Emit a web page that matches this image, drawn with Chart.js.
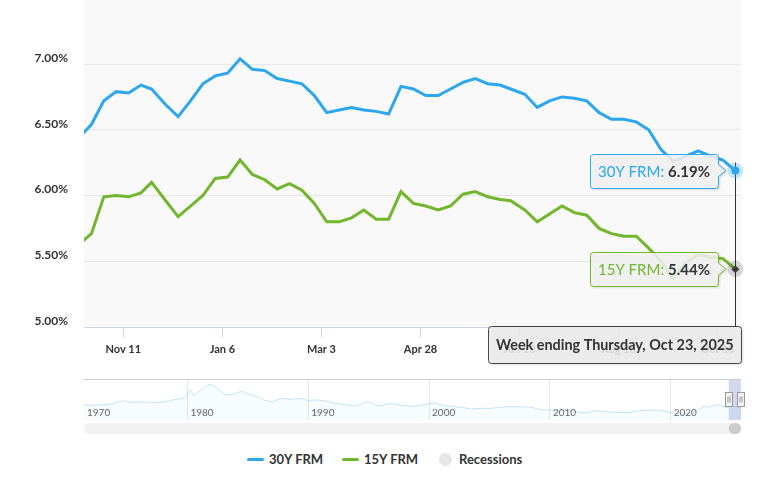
<!DOCTYPE html>
<html>
<head>
<meta charset="utf-8">
<script src="https://cdn.jsdelivr.net/npm/chart.js@4.4.1/dist/chart.umd.min.js"></script>
<style>
html, body { margin: 0; padding: 0; background: #fff; }
#wrap { position: relative; width: 761px; height: 493px; overflow: hidden; font-family: Lato, sans-serif; }
#main { position: absolute; left: 0; top: 0; }
#nav { position: absolute; left: 0; top: 372px; }
#legend { position: absolute; left: 0; top: 450px; width: 761px; height: 18px; font: bold 13px Lato, sans-serif; color: #333; white-space: nowrap; }
#legend .item { position: absolute; top: 0; height: 18px; display: flex; align-items: center; }
#legend .sw { display: inline-block; width: 17px; height: 3px; border-radius: 2px; margin-right: 5px; }
#legend .dot { display: inline-block; width: 13px; height: 13px; border-radius: 50%; background: #e6e6e6; margin-right: 7px; }
</style>
</head>
<body>
<div id="wrap">
  <canvas id="main" width="761" height="372"></canvas>
  <canvas id="nav" width="761" height="68"></canvas>
  <div id="legend"></div>
</div>
<script>
// weekly PMMS rates (Thursday releases)
const weeks = [
  '2024-10-17','2024-10-24','2024-10-31','2024-11-07','2024-11-14','2024-11-21','2024-11-27','2024-12-05','2024-12-12','2024-12-19','2024-12-26',
  '2025-01-02','2025-01-09','2025-01-16','2025-01-23','2025-01-30','2025-02-06','2025-02-13','2025-02-20','2025-02-27',
  '2025-03-06','2025-03-13','2025-03-20','2025-03-27','2025-04-03','2025-04-10','2025-04-17','2025-04-24',
  '2025-05-01','2025-05-08','2025-05-15','2025-05-22','2025-05-29','2025-06-05','2025-06-12','2025-06-18','2025-06-26',
  '2025-07-03','2025-07-10','2025-07-17','2025-07-24','2025-07-31','2025-08-07','2025-08-14','2025-08-21','2025-08-28',
  '2025-09-04','2025-09-11','2025-09-18','2025-09-25','2025-10-02','2025-10-09','2025-10-16','2025-10-23'
];
const frm30 = [
  6.44, 6.54, 6.72, 6.79, 6.78, 6.84, 6.81, 6.69, 6.60, 6.72, 6.85,
  6.91, 6.93, 7.04, 6.96, 6.95, 6.89, 6.87, 6.85, 6.76,
  6.63, 6.65, 6.67, 6.65, 6.64, 6.62, 6.83, 6.81,
  6.76, 6.76, 6.81, 6.86, 6.89, 6.85, 6.84, 6.81, 6.77,
  6.67, 6.72, 6.75, 6.74, 6.72, 6.63, 6.58, 6.58, 6.56,
  6.50, 6.35, 6.26, 6.30, 6.34, 6.30, 6.27, 6.19
];
const frm15 = [
  5.63, 5.71, 5.99, 6.00, 5.99, 6.02, 6.10, 5.96, 5.84, 5.92, 6.00,
  6.13, 6.14, 6.27, 6.16, 6.12, 6.05, 6.09, 6.04, 5.94,
  5.80, 5.80, 5.83, 5.89, 5.82, 5.82, 6.03, 5.94,
  5.92, 5.89, 5.92, 6.01, 6.03, 5.99, 5.97, 5.96, 5.89,
  5.80, 5.86, 5.92, 5.87, 5.85, 5.75, 5.71, 5.69, 5.69,
  5.60, 5.50, 5.37, 5.49, 5.55, 5.53, 5.52, 5.44
];
const xTickDates = ['2024-11-11','2025-01-06','2025-03-03','2025-04-28','2025-06-23','2025-08-18','2025-10-13'];
const xTickLabels = ['Nov 11','Jan 6','Mar 3','Apr 28','Jun 23','Aug 18','Oct 13'];
const yTicks = [5.0, 5.5, 6.0, 6.5, 7.0];

// navigator: full history of the 30Y rate (rough read of the mini chart)
const navYears = [1971.3,1972.0,1972.8,1973.5,1974.0,1974.7,1975.3,1976.0,1976.8,1977.5,1978.3,1979.0,1979.6,1979.9,1980.25,1980.5,1980.9,1981.4,1981.8,1982.3,1982.9,1983.4,1983.9,1984.5,1985.0,1985.7,1986.3,1987.0,1987.8,1988.5,1989.3,1990.0,1990.6,1991.5,1992.0,1992.6,1993.4,1993.9,1994.9,1995.5,1996.0,1996.6,1997.5,1998.8,1999.5,2000.4,2000.9,2001.8,2002.6,2003.5,2004.0,2005.0,2006.5,2007.5,2008.5,2009.2,2009.8,2010.8,2011.3,2012.5,2013.0,2013.8,2015.0,2016.5,2017.0,2018.9,2019.8,2020.5,2021.0,2021.8,2022.8,2023.1,2023.8,2024.7,2025.0,2025.8];
const navRate = [7.4,7.4,7.45,7.9,8.5,9.6,8.9,9.0,8.9,8.8,9.4,10.4,11.0,12.3,15.5,12.6,14.5,16.2,18.2,17.0,13.8,12.8,13.4,14.5,13.2,12.1,10.2,9.2,11.0,10.4,10.9,9.9,10.1,9.5,8.6,8.0,7.4,7.0,9.1,7.7,7.1,8.2,7.6,6.8,7.6,8.5,7.6,6.8,6.3,5.4,5.7,5.7,6.6,6.5,6.3,5.0,5.0,4.3,4.8,3.6,3.4,4.4,3.8,3.5,4.2,4.8,3.7,3.0,2.8,3.1,6.9,6.3,7.5,6.2,6.9,6.2];
const navTickYears = [1970, 1980, 1990, 2000, 2010, 2020];

const seriesNames = ['30Y FRM', '15Y FRM'];
const seriesColors = ['#2ca6ec', '#72b62e'];

const day = s => Date.parse(s + 'T00:00:00Z') / 86400000;
const toYear = d => 1970 + d / 365.2425;
const xMin = day('2024-10-19') + 0.8;
const xMax = day('2025-10-26') + 0.2;

function roundRect(ctx, x, y, w, h, r) {
  ctx.beginPath();
  ctx.moveTo(x + r, y);
  ctx.arcTo(x + w, y, x + w, y + h, r);
  ctx.arcTo(x + w, y + h, x, y + h, r);
  ctx.arcTo(x, y + h, x, y, r);
  ctx.arcTo(x, y, x + w, y, r);
  ctx.closePath();
}

function calloutRight(ctx, x, y, w, h, r, ax, ay) {
  ctx.beginPath();
  ctx.moveTo(x + r, y);
  ctx.lineTo(x + w - r, y);
  ctx.arcTo(x + w, y, x + w, y + r, r);
  ctx.lineTo(x + w, ay - 6);
  ctx.lineTo(ax, ay);
  ctx.lineTo(x + w, ay + 6);
  ctx.lineTo(x + w, y + h - r);
  ctx.arcTo(x + w, y + h, x + w - r, y + h, r);
  ctx.lineTo(x + r, y + h);
  ctx.arcTo(x, y + h, x, y + h - r, r);
  ctx.lineTo(x, y + r);
  ctx.arcTo(x, y, x + r, y, r);
  ctx.closePath();
}

function shadowOn(ctx) {
  ctx.shadowColor = 'rgba(0,0,0,0.2)';
  ctx.shadowBlur = 3;
  ctx.shadowOffsetX = 1;
  ctx.shadowOffsetY = 1;
}

function seriesTip(ctx, p, name, value, color) {
  ctx.save();
  ctx.font = '15px Lato';
  const t1 = name + ': ';
  const w1 = ctx.measureText(t1).width;
  ctx.font = 'bold 15px Lato';
  const t2 = value.toFixed(2) + '%';
  const w2 = ctx.measureText(t2).width;
  const w = Math.round(w1 + w2 + 16), h = 34;
  const right = Math.round(p.x) - 17;
  const x = right - w, y = Math.round(p.y - h / 2);
  shadowOn(ctx);
  calloutRight(ctx, x + 0.5, y + 0.5, w, h, 3, right + 8, p.y);
  ctx.fillStyle = 'rgba(246,246,246,0.85)';
  ctx.fill();
  ctx.shadowColor = 'transparent';
  ctx.strokeStyle = color;
  ctx.lineWidth = 1;
  ctx.stroke();
  ctx.textBaseline = 'middle';
  ctx.fillStyle = color;
  ctx.font = '15px Lato';
  ctx.fillText(t1, x + 8, y + h / 2 + 1);
  ctx.fillStyle = '#333';
  ctx.font = 'bold 15px Lato';
  ctx.fillText(t2, x + 8 + w1, y + h / 2 + 1);
  ctx.restore();
}

const plotBg = {
  id: 'plotBg',
  beforeDraw(chart) {
    const a = chart.chartArea, ctx = chart.ctx;
    ctx.save();
    ctx.fillStyle = '#f9f9f9';
    ctx.fillRect(a.left, a.top, a.right - a.left, a.bottom - a.top);
    ctx.restore();
  }
};

const hoverTips = {
  id: 'hoverTips',
  afterDatasetsDraw(chart) {
    const ctx = chart.ctx, n = weeks.length - 1;
    const p30 = chart.getDatasetMeta(0).data[n];
    const p15 = chart.getDatasetMeta(1).data[n];
    ctx.save();
    // crosshair
    const cx = Math.round(p30.x) + 0.5;
    ctx.strokeStyle = '#333';
    ctx.lineWidth = 1;
    ctx.beginPath();
    ctx.moveTo(cx, p30.y - 8);
    ctx.lineTo(cx, chart.chartArea.bottom);
    ctx.stroke();
    // hover halos and markers
    ctx.fillStyle = 'rgba(44,166,236,0.25)';
    ctx.beginPath(); ctx.arc(p30.x, p30.y, 8, 0, Math.PI * 2); ctx.fill();
    ctx.fillStyle = seriesColors[0];
    ctx.beginPath(); ctx.arc(p30.x, p30.y, 4, 0, Math.PI * 2); ctx.fill();
    ctx.fillStyle = 'rgba(0,0,0,0.15)';
    ctx.beginPath(); ctx.arc(p15.x, p15.y, 8, 0, Math.PI * 2); ctx.fill();
    ctx.fillStyle = '#3a3a3a';
    ctx.beginPath();
    ctx.moveTo(p15.x, p15.y - 4); ctx.lineTo(p15.x + 4, p15.y); ctx.lineTo(p15.x, p15.y + 4); ctx.lineTo(p15.x - 4, p15.y);
    ctx.closePath(); ctx.fill();
    ctx.restore();
  },
  afterDraw(chart) {
    const ctx = chart.ctx, n = weeks.length - 1, a = chart.chartArea;
    const p30 = chart.getDatasetMeta(0).data[n];
    const p15 = chart.getDatasetMeta(1).data[n];
    seriesTip(ctx, p30, seriesNames[0], frm30[n], seriesColors[0]);
    seriesTip(ctx, p15, seriesNames[1], frm15[n], seriesColors[1]);
    // header box
    const d = new Date(weeks[n] + 'T00:00:00Z');
    const txt = 'Week ending ' + d.toLocaleDateString('en-US', { weekday: 'long', month: 'short', day: 'numeric', year: 'numeric', timeZone: 'UTC' });
    ctx.save();
    ctx.font = 'bold 14.4px Lato';
    const w = Math.round(ctx.measureText(txt).width + 16), h = 37;
    const x = Math.min(Math.round(p30.x - w / 2), Math.round(a.right) - w);
    const y = Math.round(a.bottom) - 1;
    shadowOn(ctx);
    roundRect(ctx, x + 0.5, y + 0.5, w, h, 3);
    ctx.fillStyle = 'rgba(238,238,238,0.88)';
    ctx.fill();
    ctx.shadowColor = 'transparent';
    ctx.strokeStyle = '#444';
    ctx.lineWidth = 1;
    ctx.stroke();
    ctx.fillStyle = '#333';
    ctx.textBaseline = 'middle';
    ctx.fillText(txt, x + 8, y + h / 2 + 1);
    ctx.restore();
  }
};

new Chart(document.getElementById('main'), {
  type: 'line',
  data: {
    datasets: [
      { label: seriesNames[0], data: weeks.map((w, i) => ({ x: day(w), y: frm30[i] })), borderColor: seriesColors[0], borderWidth: 3, pointRadius: 0, tension: 0, fill: false },
      { label: seriesNames[1], data: weeks.map((w, i) => ({ x: day(w), y: frm15[i] })), borderColor: seriesColors[1], borderWidth: 3, pointRadius: 0, tension: 0, fill: false }
    ]
  },
  options: {
    responsive: false,
    animation: false,
    events: [],
    layout: { padding: { left: 0, right: 20, top: 0, bottom: 0 } },
    plugins: { legend: { display: false }, tooltip: { enabled: false } },
    scales: {
      x: {
        type: 'linear',
        min: xMin,
        max: xMax,
        afterBuildTicks: axis => { axis.ticks = xTickDates.map(d => ({ value: day(d) })); },
        afterFit: axis => { axis.height = 45; axis.paddingLeft = 0; axis.paddingRight = 0; },
        grid: { drawOnChartArea: false, drawTicks: true, tickLength: 10, color: '#ccd6eb' },
        border: { color: '#ccd6eb', width: 1 },
        ticks: {
          autoSkip: false, maxRotation: 0, padding: 6, color: '#333',
          font: { family: 'Lato', size: 11, weight: 'bold' },
          callback: (v, i) => xTickLabels[i]
        }
      },
      y: {
        min: 5,
        max: 7.487,
        afterBuildTicks: axis => { axis.ticks = yTicks.map(v => ({ value: v })); },
        afterFit: axis => { axis.width = 84; axis.paddingTop = 0; axis.paddingBottom = 0; },
        grid: { color: '#e6e6e6', drawTicks: false },
        border: { display: false },
        ticks: {
          padding: 16, labelOffset: -6, color: '#333',
          font: { family: 'Lato', size: 12, weight: 'bold' },
          callback: v => v.toFixed(2) + '%'
        }
      }
    }
  },
  plugins: [plotBg, hoverTips]
});

// navigator with scrollbar
const navMin = 1971.44;
const navMax = toYear(xMax);
const navExtras = {
  id: 'navExtras',
  afterDraw(chart) {
    const ctx = chart.ctx, a = chart.chartArea, sx = chart.scales.x;
    ctx.save();
    // year labels
    ctx.font = '10px Lato';
    ctx.fillStyle = '#666';
    ctx.textBaseline = 'middle';
    navTickYears.forEach(yr => {
      const px = Math.max(sx.getPixelForValue(yr), a.left);
      ctx.fillText(String(yr), px + 3, a.top + 34);
    });
    // top outline
    ctx.strokeStyle = '#cccccc';
    ctx.lineWidth = 1;
    ctx.beginPath();
    ctx.moveTo(a.left, Math.round(a.top) + 0.5);
    ctx.lineTo(a.right, Math.round(a.top) + 0.5);
    ctx.stroke();
    // selected range mask
    const m0 = sx.getPixelForValue(toYear(xMin));
    const m1 = sx.getPixelForValue(navMax);
    ctx.fillStyle = 'rgba(102,133,194,0.3)';
    ctx.fillRect(m0, a.top + 1, m1 - m0, a.bottom - a.top - 1);
    // handles
    const hy = (a.top + a.bottom) / 2;
    [m0, m1].forEach(hx => {
      const x = Math.round(hx - 4) + 0.5, y = Math.round(hy - 7.5) + 0.5;
      ctx.fillStyle = '#f2f2f2';
      ctx.strokeStyle = '#999';
      ctx.fillRect(x, y, 7, 14);
      ctx.strokeRect(x, y, 7, 14);
      ctx.beginPath();
      ctx.moveTo(x + 2.5, y + 4); ctx.lineTo(x + 2.5, y + 10);
      ctx.moveTo(x + 4.5, y + 4); ctx.lineTo(x + 4.5, y + 10);
      ctx.stroke();
    });
    // scrollbar
    const sy = a.bottom + 3;
    ctx.fillStyle = '#f2f2f2';
    roundRect(ctx, a.left, sy, a.right - a.left, 11, 5.5);
    ctx.fill();
    ctx.fillStyle = '#cccccc';
    roundRect(ctx, m0, sy, m1 - m0, 11, 5.5);
    ctx.fill();
    ctx.restore();
  }
};

new Chart(document.getElementById('nav'), {
  type: 'line',
  data: {
    datasets: [{
      data: navYears.map((yr, i) => ({ x: yr, y: navRate[i] })),
      borderColor: 'rgba(44,166,236,0.28)',
      backgroundColor: 'rgba(44,166,236,0.04)',
      borderWidth: 1,
      pointRadius: 0,
      tension: 0.3,
      fill: 'start'
    }]
  },
  options: {
    responsive: false,
    animation: false,
    events: [],
    layout: { padding: { left: 84, right: 20, top: 7, bottom: 20 } },
    plugins: { legend: { display: false }, tooltip: { enabled: false } },
    scales: {
      x: {
        type: 'linear',
        min: navMin,
        max: navMax,
        afterBuildTicks: axis => { axis.ticks = navTickYears.filter(y => y > navMin).map(v => ({ value: v })); },
        afterFit: axis => { axis.height = 0; axis.paddingLeft = 0; axis.paddingRight = 0; },
        grid: { color: '#e6e6e6', drawTicks: false },
        border: { display: false },
        ticks: { display: false }
      },
      y: { display: false, min: -0.4, max: 21.1 }
    }
  },
  plugins: [navExtras]
});

// legend
const legendItems = [
  { name: seriesNames[0], color: seriesColors[0], left: 247 },
  { name: seriesNames[1], color: seriesColors[1], left: 342 },
  { name: 'Recessions', color: null, left: 439 }
];
document.getElementById('legend').innerHTML = legendItems.map(it =>
  '<span class="item" style="left:' + it.left + 'px">' +
  (it.color ? '<i class="sw" style="background:' + it.color + '"></i>' : '<i class="dot"></i>') +
  it.name + '</span>').join('');
</script>
</body>
</html>
